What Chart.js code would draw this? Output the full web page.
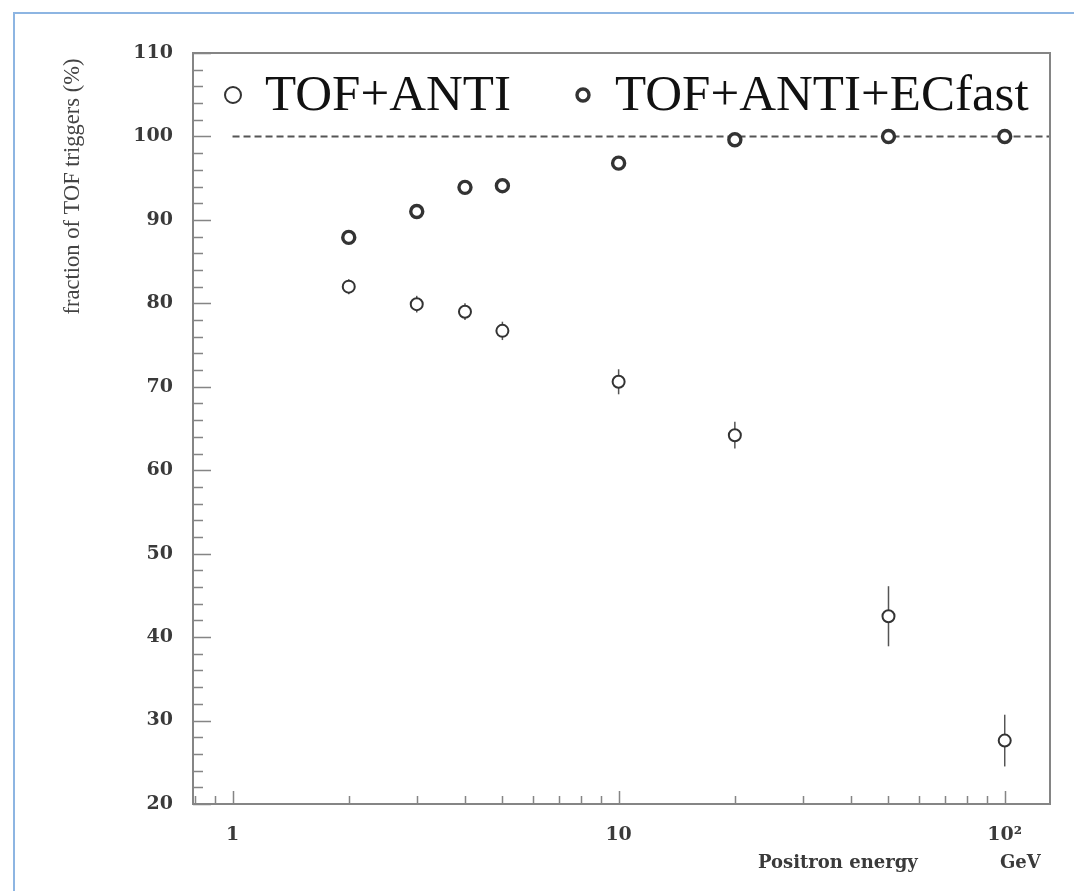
<!DOCTYPE html>
<html>
<head>
<meta charset="utf-8">
<script src="https://cdn.jsdelivr.net/npm/chart.js@4.4.1/dist/chart.umd.min.js"></script>
<style>
  html, body { margin: 0; padding: 0; background: #fff; }
  #wrap { position: relative; width: 1074px; height: 891px; overflow: hidden; }
  #edge { position: absolute; left: 13px; top: 12px; right: -10px; bottom: -10px;
          border-left: 2px solid #8db5e2; border-top: 2px solid #8db5e2; }
  canvas { position: absolute; left: 0; top: 0; }
</style>
</head>
<body>
<div id="wrap"><div id="edge"></div><canvas id="chart1" width="1074" height="891"></canvas></div>
<script>
// values
const energies = [2, 3, 4, 5, 10, 20, 50, 100];
const tofAnti = [82.0, 79.9, 79.0, 76.7, 70.6, 64.2, 42.5, 27.6];
const tofAntiErr = [0.9, 1.0, 1.0, 1.1, 1.5, 1.6, 3.6, 3.1];
const tofAntiEc = [87.9, 91.0, 93.9, 94.1, 96.8, 99.6, 100.0, 100.0];
const tofAntiEcErr = [0.4, 0.4, 0.4, 0.4, 0.3, 0.2, 0.1, 0.1];
const refLineX = [1, 131];
const refLineY = [100, 100];
const xTicks = [1, 10, 100];
const xTickLabels = ['1', '10', '10\u00b2'];
const xMinor = [0.8, 0.9, 2, 3, 4, 5, 6, 7, 8, 9, 20, 30, 40, 50, 60, 70, 80, 90];

const serif = '"Liberation Serif", "Times New Roman", serif';
const tickFont = { family: '"DejaVu Serif", serif', size: 19, weight: 'bold' };

const pts = (xs, ys) => xs.map((x, i) => ({ x: x, y: ys[i] }));

const overlay = {
    id: 'overlay',
    beforeDatasetsDraw(chart) {
        const ctx = chart.ctx, xs = chart.scales.x, ys = chart.scales.y;
        ctx.save();
        ctx.strokeStyle = '#555';
        ctx.lineWidth = 1.5;
        chart.data.datasets.forEach(ds => {
            if (!ds.errors) return;
            ds.data.forEach((p, i) => {
                const px = xs.getPixelForValue(p.x);
                ctx.beginPath();
                ctx.moveTo(px, ys.getPixelForValue(p.y - ds.errors[i]));
                ctx.lineTo(px, ys.getPixelForValue(p.y + ds.errors[i]));
                ctx.stroke();
            });
        });
        ctx.restore();
    },
    afterDraw(chart) {
        const ctx = chart.ctx, a = chart.chartArea, xs = chart.scales.x, ys = chart.scales.y;
        ctx.save();
        // frame
        ctx.strokeStyle = '#858585';
        ctx.lineWidth = 2;
        ctx.strokeRect(a.left, a.top, a.right - a.left, a.bottom - a.top);
        // inside ticks
        ctx.lineWidth = 1.5;
        ctx.beginPath();
        for (let v = ys.min; v <= ys.max; v += 2) {
            const py = Math.round(ys.getPixelForValue(v)) + 0.5;
            ctx.moveTo(a.left, py);
            ctx.lineTo(a.left + (v % 10 === 0 ? 18 : 10), py);
        }
        xTicks.concat(xMinor).forEach(v => {
            const px = Math.round(xs.getPixelForValue(v)) + 0.5;
            ctx.moveTo(px, a.bottom);
            ctx.lineTo(px, a.bottom - (xTicks.includes(v) ? 13 : 8));
        });
        ctx.stroke();

        // legend
        chart.data.datasets.forEach(ds => {
            if (!ds.legendX) return;
            ctx.beginPath();
            ctx.arc(ds.legendX, 95, ds.legendR, 0, Math.PI * 2);
            ctx.fillStyle = '#fff';
            ctx.fill();
            ctx.lineWidth = ds.legendW;
            ctx.strokeStyle = '#333';
            ctx.stroke();
            ctx.fillStyle = '#111';
            ctx.font = '51px ' + serif;
            ctx.textBaseline = 'alphabetic';
            ctx.textAlign = 'left';
            ctx.fillText(ds.label, ds.legendX + 32, 110);
        });

        // x axis title
        ctx.fillStyle = '#3a3a3a';
        ctx.font = 'bold 18px "DejaVu Serif", serif';
        ctx.textBaseline = 'middle';
        ctx.textAlign = 'left';
        ctx.fillText('Positron energy', 758, 863);
        ctx.fillText('GeV', 1000, 863);
        ctx.restore();
    }
};

new Chart('chart1', {
    type: 'scatter',
    data: {
        datasets: [
            {
                label: 'TOF+ANTI',
                data: pts(energies, tofAnti),
                errors: tofAntiErr,
                pointRadius: 6,
                pointBorderWidth: 2,
                pointBorderColor: '#333',
                pointBackgroundColor: '#fff',
                legendX: 233, legendR: 8, legendW: 2
            },
            {
                label: 'TOF+ANTI+ECfast',
                data: pts(energies, tofAntiEc),
                errors: tofAntiEcErr,
                pointRadius: 6,
                pointBorderWidth: 3.4,
                pointBorderColor: '#333',
                pointBackgroundColor: '#fff',
                legendX: 583, legendR: 6, legendW: 3.4
            },
            {
                label: 'ref',
                data: pts(refLineX, refLineY),
                showLine: true,
                borderColor: '#555',
                borderWidth: 2,
                borderDash: [7, 4],
                pointRadius: 0
            }
        ]
    },
    options: {
        responsive: false,
        animation: false,
        layout: { padding: { top: 53, right: 24, left: 0, bottom: 0 } },
        plugins: { legend: { display: false }, tooltip: { enabled: false } },
        scales: {
            x: {
                type: 'logarithmic',
                min: 0.79,
                max: 131,
                grid: { display: false },
                border: { display: false },
                afterBuildTicks: s => { s.ticks = xTicks.map(v => ({ value: v })); },
                afterFit: s => { s.height = 87; },
                ticks: {
                    autoSkip: false,
                    maxRotation: 0,
                    padding: 12,
                    color: '#3a3a3a',
                    font: tickFont,
                    callback: v => xTickLabels[xTicks.indexOf(v)]
                }
            },
            y: {
                min: 20,
                max: 110,
                grid: { display: false },
                border: { display: false },
                afterFit: s => { s.width = 193; },
                ticks: {
                    stepSize: 10,
                    padding: 12,
                    color: '#3a3a3a',
                    font: tickFont
                },
                title: {
                    display: true,
                    text: 'fraction of TOF triggers (%) ',
                    align: 'end',
                    color: '#444',
                    font: { family: serif, size: 22.5 },
                    padding: { top: 60 }
                }
            }
        }
    },
    plugins: [overlay]
});
</script>
</body>
</html>
